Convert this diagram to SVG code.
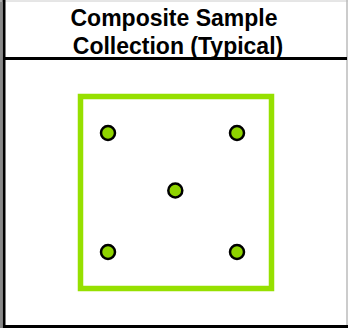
<svg xmlns="http://www.w3.org/2000/svg" width="348" height="328" viewBox="0 0 348 328">
<style>
.title{font-family:"Liberation Sans",Arial,sans-serif;font-weight:bold;font-size:23px;fill:#000;text-anchor:middle}
.pt{fill:#8fd400;stroke:#000;stroke-width:2.5}
</style>
<rect x="0" y="0" width="348" height="328" fill="#fff"/>
<g id="frame">
<line x1="1" y1="0" x2="1" y2="328" stroke="#888" stroke-width="2"/>
<line x1="0" y1="1" x2="348" y2="1" stroke="#ccc" stroke-width="1"/>
<line x1="347" y1="0" x2="347" y2="328" stroke="#bbb" stroke-width="1.5"/>
<line x1="4" y1="0" x2="4" y2="328" stroke="#000" stroke-width="3"/>
<line x1="3" y1="326.5" x2="348" y2="326.5" stroke="#000" stroke-width="3"/>
<line x1="3" y1="58.5" x2="347" y2="58.5" stroke="#000" stroke-width="3"/>
</g>
<g id="title">
<text class="title" x="174" y="26">Composite Sample</text>
<text class="title" x="178" y="54">Collection (Typical)</text>
</g>
<g id="area">
<rect x="80.5" y="96.5" width="191" height="192" fill="none" stroke="#96e000" stroke-width="5.5"/>
</g>
<g id="points">
<circle class="pt" cx="108" cy="133" r="7"/>
<circle class="pt" cx="237" cy="133" r="7"/>
<circle class="pt" cx="175.3" cy="190.5" r="7"/>
<circle class="pt" cx="108" cy="252" r="7"/>
<circle class="pt" cx="237" cy="252" r="7"/>
</g>
</svg>
